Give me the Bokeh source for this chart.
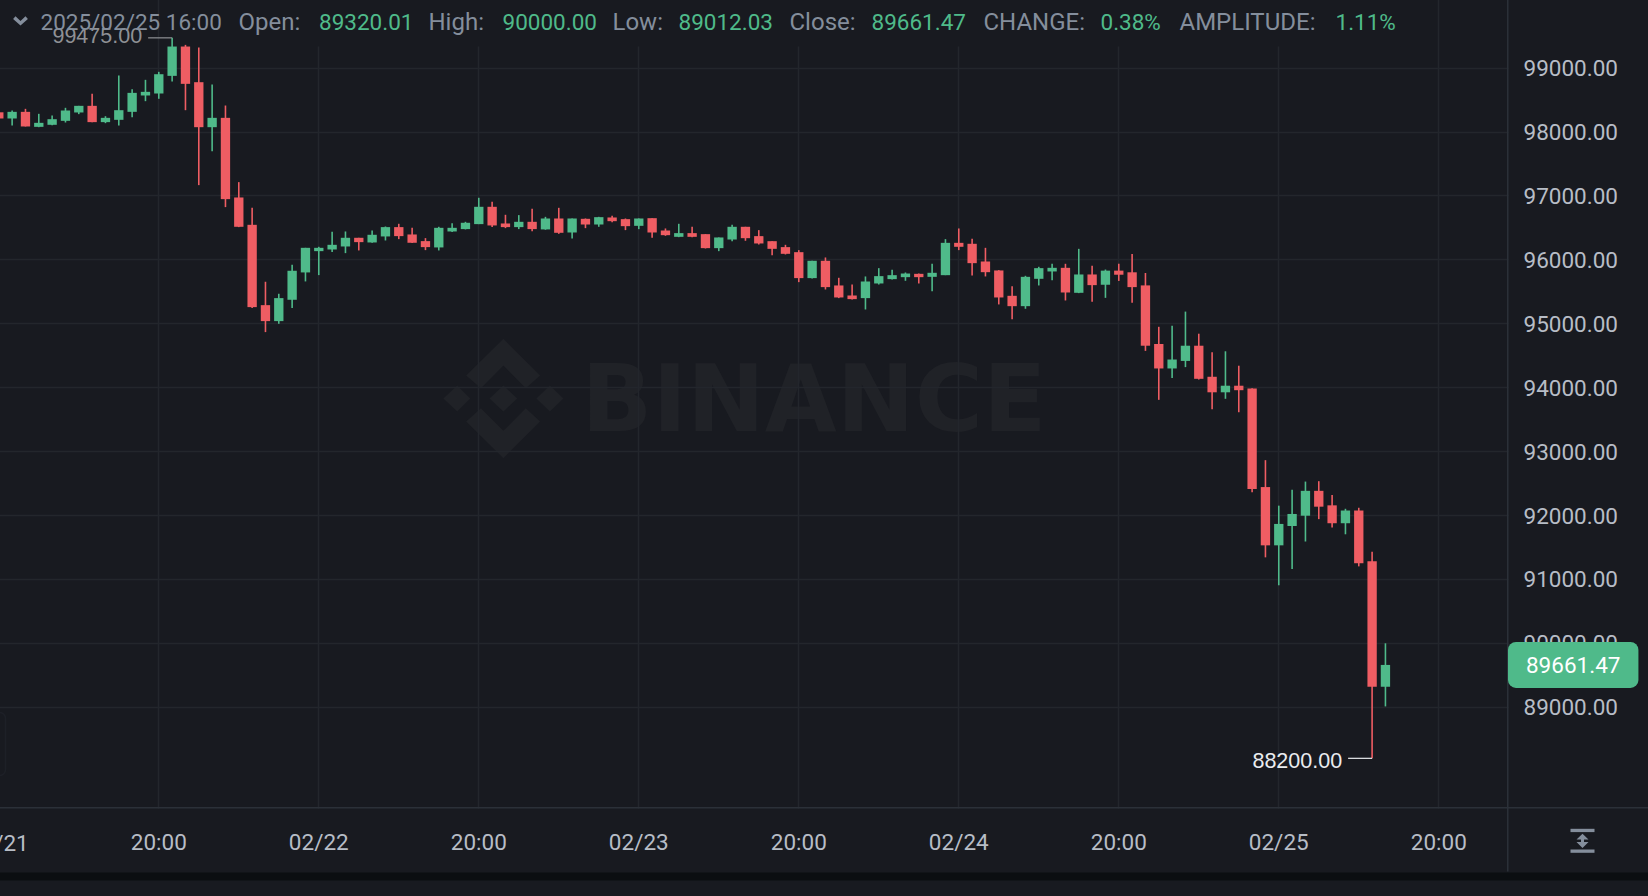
from bokeh.plotting import figure
from bokeh.models import (ColumnDataSource, FixedTicker, Label, LinearAxis, PolyAnnotation,
                          BoxAnnotation, Range1d, NumeralTickFormatter, Grid)
from bokeh.embed import file_html
from bokeh.resources import INLINE

opens = [98310,98213,98317,98082,98114,98176,98307,98411,98156,98192,98317,98573,98604,98880,99339,98781,98077,98223,96977,96549,95292,95042,95376,95804,96137,96163,96210,96346,96273,96367,96513,96398,96294,96195,96445,96482,96560,96831,96570,96513,96596,96477,96648,96429,96643,96554,96664,96638,96533,96653,96460,96361,96419,96403,96184,96319,96518,96372,96293,96200,96121,95715,95986,95600,95443,95402,95631,95699,95730,95782,95735,95761,96267,96252,95975,95835,95438,95276,95704,95819,95876,95485,95772,95611,95832,95806,95601,94684,94301,94419,94657,94171,93928,94031,93988,92445,91533,91836,91997,92386,92159,91879,92078,91285,89320.01]
highs = [98312,98338,98364,98286,98260,98380,98411,98599,98249,98886,98672,98818,98943,99475,99365,99324,98745,98416,97217,96815,95658,95470,95924,96189,96205,96440,96445,96346,96461,96523,96565,96502,96341,96518,96575,96596,96972,96909,96706,96701,96800,96674,96815,96648,96648,96674,96690,96648,96648,96653,96492,96565,96518,96403,96351,96549,96518,96466,96293,96236,96153,95986,96038,95720,95615,95741,95871,95845,95803,95787,95939,96325,96492,96330,96189,95840,95589,95751,95892,95939,95939,96173,95907,95849,95940,96091,95795,94953,94969,95191,94845,94554,94570,94344,93993,92866,92154,92402,92531,92537,92321,92105,92121,91431,90000]
lows = [98213,98103,98088,98077,98109,98150,98281,98156,98140,98103,98234,98484,98521,98792,98343,97170,97702,96826,96513,95246,94870,95000,95246,95663,95762,96122,96106,96148,96268,96304,96325,96263,96153,96148,96435,96477,96560,96513,96497,96482,96450,96472,96408,96335,96497,96518,96591,96466,96481,96346,96377,96356,96356,96179,96137,96293,96299,96241,96074,96085,95652,95710,95537,95402,95381,95224,95615,95694,95673,95631,95511,95761,96153,95756,95741,95303,95073,95235,95600,95683,95365,95480,95344,95406,95671,95331,94576,93810,94150,94322,94128,93664,93826,93616,92364,91345,90908,91161,91593,91943,91814,91706,91204,88200,89012.03]
closes = [98213,98317,98088,98145,98202,98338,98411,98156,98223,98343,98614,98630,98906,99339,98755,98077,98223,96951,96518,95261,95042,95402,95830,96189,96189,96236,96346,96278,96393,96513,96372,96268,96200,96502,96502,96581,96831,96539,96513,96596,96482,96648,96424,96648,96554,96669,96606,96528,96648,96429,96387,96419,96361,96184,96351,96518,96340,96257,96173,96095,95715,95986,95574,95412,95386,95662,95746,95761,95787,95730,95798,96267,96205,95949,95808,95412,95276,95735,95871,95876,95490,95772,95605,95832,95768,95574,94657,94301,94441,94657,94139,93928,94031,93961,92413,91533,91868,92024,92386,92138,91879,92078,91253,89320.01,89661.47]

price_ticks = [89000,90000,91000,92000,93000,94000,95000,96000,97000,98000,99000]
time_ticks = [12,24,36,48,60,72,84,96,108]
time_labels = ["20:00","02/22","20:00","02/23","20:00","02/24","20:00","02/25","20:00"]
first_time_label = "02/21"
header = [("2025/02/25 16:00",40,"date"),("Open:",238,"muted"),("89320.01",318.5,"up"),
          ("High:",428,"muted"),("90000.00",502,"up"),("Low:",612,"muted"),("89012.03",678,"up"),
          ("Close:",789,"muted"),("89661.47",871,"up"),("CHANGE:",983,"muted"),("0.38%",1100,"up"),
          ("AMPLITUDE:",1179,"muted"),("1.11%",1335,"up")]

BG, GRID, EDGE = "#181a20", "#23262c", "#2b3038"
UP, DOWN, MUTED, TICK = "#4fba8a", "#ef5d63", "#848e9c", "#b7bdc6"
FONT = "Roboto"
FH = 896   # screen y counts up from the frame's bottom
XO = 3     # the canvas starts this far left of and above the window

p = figure(width=1648 + XO, height=896 + XO, output_backend="svg", toolbar_location=None,
           x_range=Range1d(-0.0975, 123.73), y_range=Range1d(86037.6, 100106.4),
           x_axis_location=None, y_axis_location=None,
           min_border_left=0, min_border_right=0, min_border_top=0, min_border_bottom=0,
           background_fill_color=BG, border_fill_color=BG, outline_line_color=None)
p.margin = (-XO, 0, 0, -XO)

# axes: they sit on the frame's edges, their labels pulled back into it
right = LinearAxis(ticker=FixedTicker(ticks=price_ticks), formatter=NumeralTickFormatter(format="0.00"),
                   axis_line_color=None, major_tick_line_color=None, minor_tick_line_color=None,
                   major_label_text_color=TICK, major_label_text_font=FONT,
                   major_label_text_font_size="22.5px", major_label_standoff=-131)
p.add_layout(right, "right")
below = LinearAxis(ticker=FixedTicker(ticks=time_ticks),
                   major_label_overrides=dict(zip(time_ticks, time_labels)),
                   axis_line_color=None, major_tick_line_color=None, minor_tick_line_color=None,
                   major_label_text_color=TICK, major_label_text_font=FONT,
                   major_label_text_font_size="22.5px", major_label_standoff=-74)
p.add_layout(below, "below")

p.grid.visible = False
p.add_layout(Grid(dimension=1, ticker=FixedTicker(ticks=price_ticks), grid_line_color=GRID, grid_line_width=1.5))
p.add_layout(Grid(dimension=0, ticker=FixedTicker(ticks=time_ticks), grid_line_color=GRID, grid_line_width=1.5))

def poly(pts, color, level="image"):
    p.add_layout(PolyAnnotation(xs=[a + XO for a, _ in pts], ys=[FH - b for _, b in pts],
                                xs_units="screen", ys_units="screen",
                                fill_color=color, fill_alpha=1, line_color=None, level=level))

def box(l, r, t, b, color, level="annotation", **kw):
    props = dict(fill_color=color, fill_alpha=1, line_color=None)
    props.update(kw)
    p.add_layout(BoxAnnotation(left=l + XO, right=r + XO, top=FH - t, bottom=FH - b,
                               left_units="screen", right_units="screen",
                               top_units="screen", bottom_units="screen", level=level, **props))

# covers over the grid: header row, price column, time row (all run past the canvas edges)
box(200, 1400, -4, 46, BG, "underlay")
box(1508, 1652, -4, 900, BG, "underlay")
box(-4, 1652, 808, 900, BG, "underlay")

# separators and bottom band
box(-4, 1652, 806.5, 808, EDGE, "underlay")
box(1506.5, 1508, -4, 871, EDGE, "underlay")
box(-4, 1652, 872, 880, "#0b0e11", "underlay")

# cut-off panel at the left edge
box(-20, 5, 712, 775, BG, "underlay", fill_alpha=0, line_color=EDGE, line_width=1.5, border_radius=6)

# watermark
WM = "#202227"
poly([(502.9,338.3),(539.6,375),(525.3,387.7),(502.9,365),(480.4,387.7),(465.7,375)], WM)
poly([(502.9,457.7),(539.6,421),(525.3,407.7),(502.9,430.3),(480.4,407.7),(465.7,421)], WM)
poly([(502.9,385),(516.7,398),(502.9,411),(489,398)], WM)
poly([(456.7,385),(469.8,398),(456.7,411),(442.9,398)], WM)
poly([(549.4,385),(562.9,398),(549.4,411),(535.9,398)], WM)
p.add_layout(Label(x=581 + XO, y=FH-398, x_units="screen", y_units="screen", text="BINANCE", text_font="DejaVu Sans",
                   text_font_style="bold", text_font_size="93px", text_color=WM, text_baseline="middle",
                   level="image"))

# candles
idx = list(range(len(closes)))
ups = [i for i in idx if closes[i] >= opens[i]]
downs = [i for i in idx if closes[i] < opens[i]]
for sel, col in ((ups, UP), (downs, DOWN)):
    src = ColumnDataSource(dict(x=sel, o=[opens[i] for i in sel], c=[closes[i] for i in sel],
                                h=[highs[i] for i in sel], l=[lows[i] for i in sel]))
    p.segment("x", "h", "x", "l", source=src, line_color=col, line_width=1.6)
    p.vbar(x="x", width=0.7, top="o", bottom="c", source=src, fill_color=col, line_color=None)

# high / low markers
hi_i, lo_i = highs.index(max(highs)), lows.index(min(lows))
p.segment([hi_i-1.8], [highs[hi_i]], [hi_i], [highs[hi_i]], line_color="#8f9195", line_width=1.2)
p.segment([lo_i-1.8], [lows[lo_i]], [lo_i], [lows[lo_i]], line_color="#eaecef", line_width=1.2)
p.text([hi_i-2.25], [highs[hi_i]], text=["%.2f" % highs[hi_i]], text_color="#8f9195", text_font={"value": "Liberation Sans"},
       text_font_size="21.5px", text_align="right", text_baseline="middle", y_offset=-2)
p.text([lo_i-2.25], [lows[lo_i]], text=["%.2f" % lows[lo_i]], text_color="#eaecef", text_font={"value": "Liberation Sans"},
       text_font_size="21.5px", text_align="right", text_baseline="middle", y_offset=2)

# header
for txt, x, kind in header:
    p.add_layout(Label(x=x + XO, y=FH-21, x_units="screen", y_units="screen", text=txt, text_font=FONT,
                       text_font_size="24px" if kind == "muted" else "22.5px",
                       text_color=UP if kind == "up" else MUTED, text_baseline="middle"))
poly([(12.6,18.5),(15,15.7),(20,20.5),(25,15.7),(27.4,18.5),(20,25)], MUTED, "annotation")

# first time label, cut by the left edge as in the reference
p.add_layout(Label(x=0, y=FH-842, x_units="data", y_units="screen", text=first_time_label, text_font=FONT,
                   text_font_size="22.5px", text_color=TICK, text_align="center", text_baseline="middle"))

# last price tag
p.add_layout(Label(x=1572.7 + XO, y=closes[-1], x_units="screen", y_units="data", text="%.2f" % closes[-1],
                   text_font=FONT, text_font_size="22.5px", text_color="#ffffff", text_align="center",
                   text_baseline="middle", background_fill_color=UP, padding=(18, 15), border_radius=8))

# scale icon
box(1570, 1594, 828.3, 831.6, MUTED)
box(1570, 1594, 849, 852.3, MUTED)
poly([(1582,833.3),(1588,839),(1583.5,839),(1583.5,841.6),(1588,841.6),(1582,847.5),(1576,841.6),(1580.5,841.6),(1580.5,839),(1576,839)], MUTED, "annotation")

open("out.html", "w").write(file_html(p, INLINE))
